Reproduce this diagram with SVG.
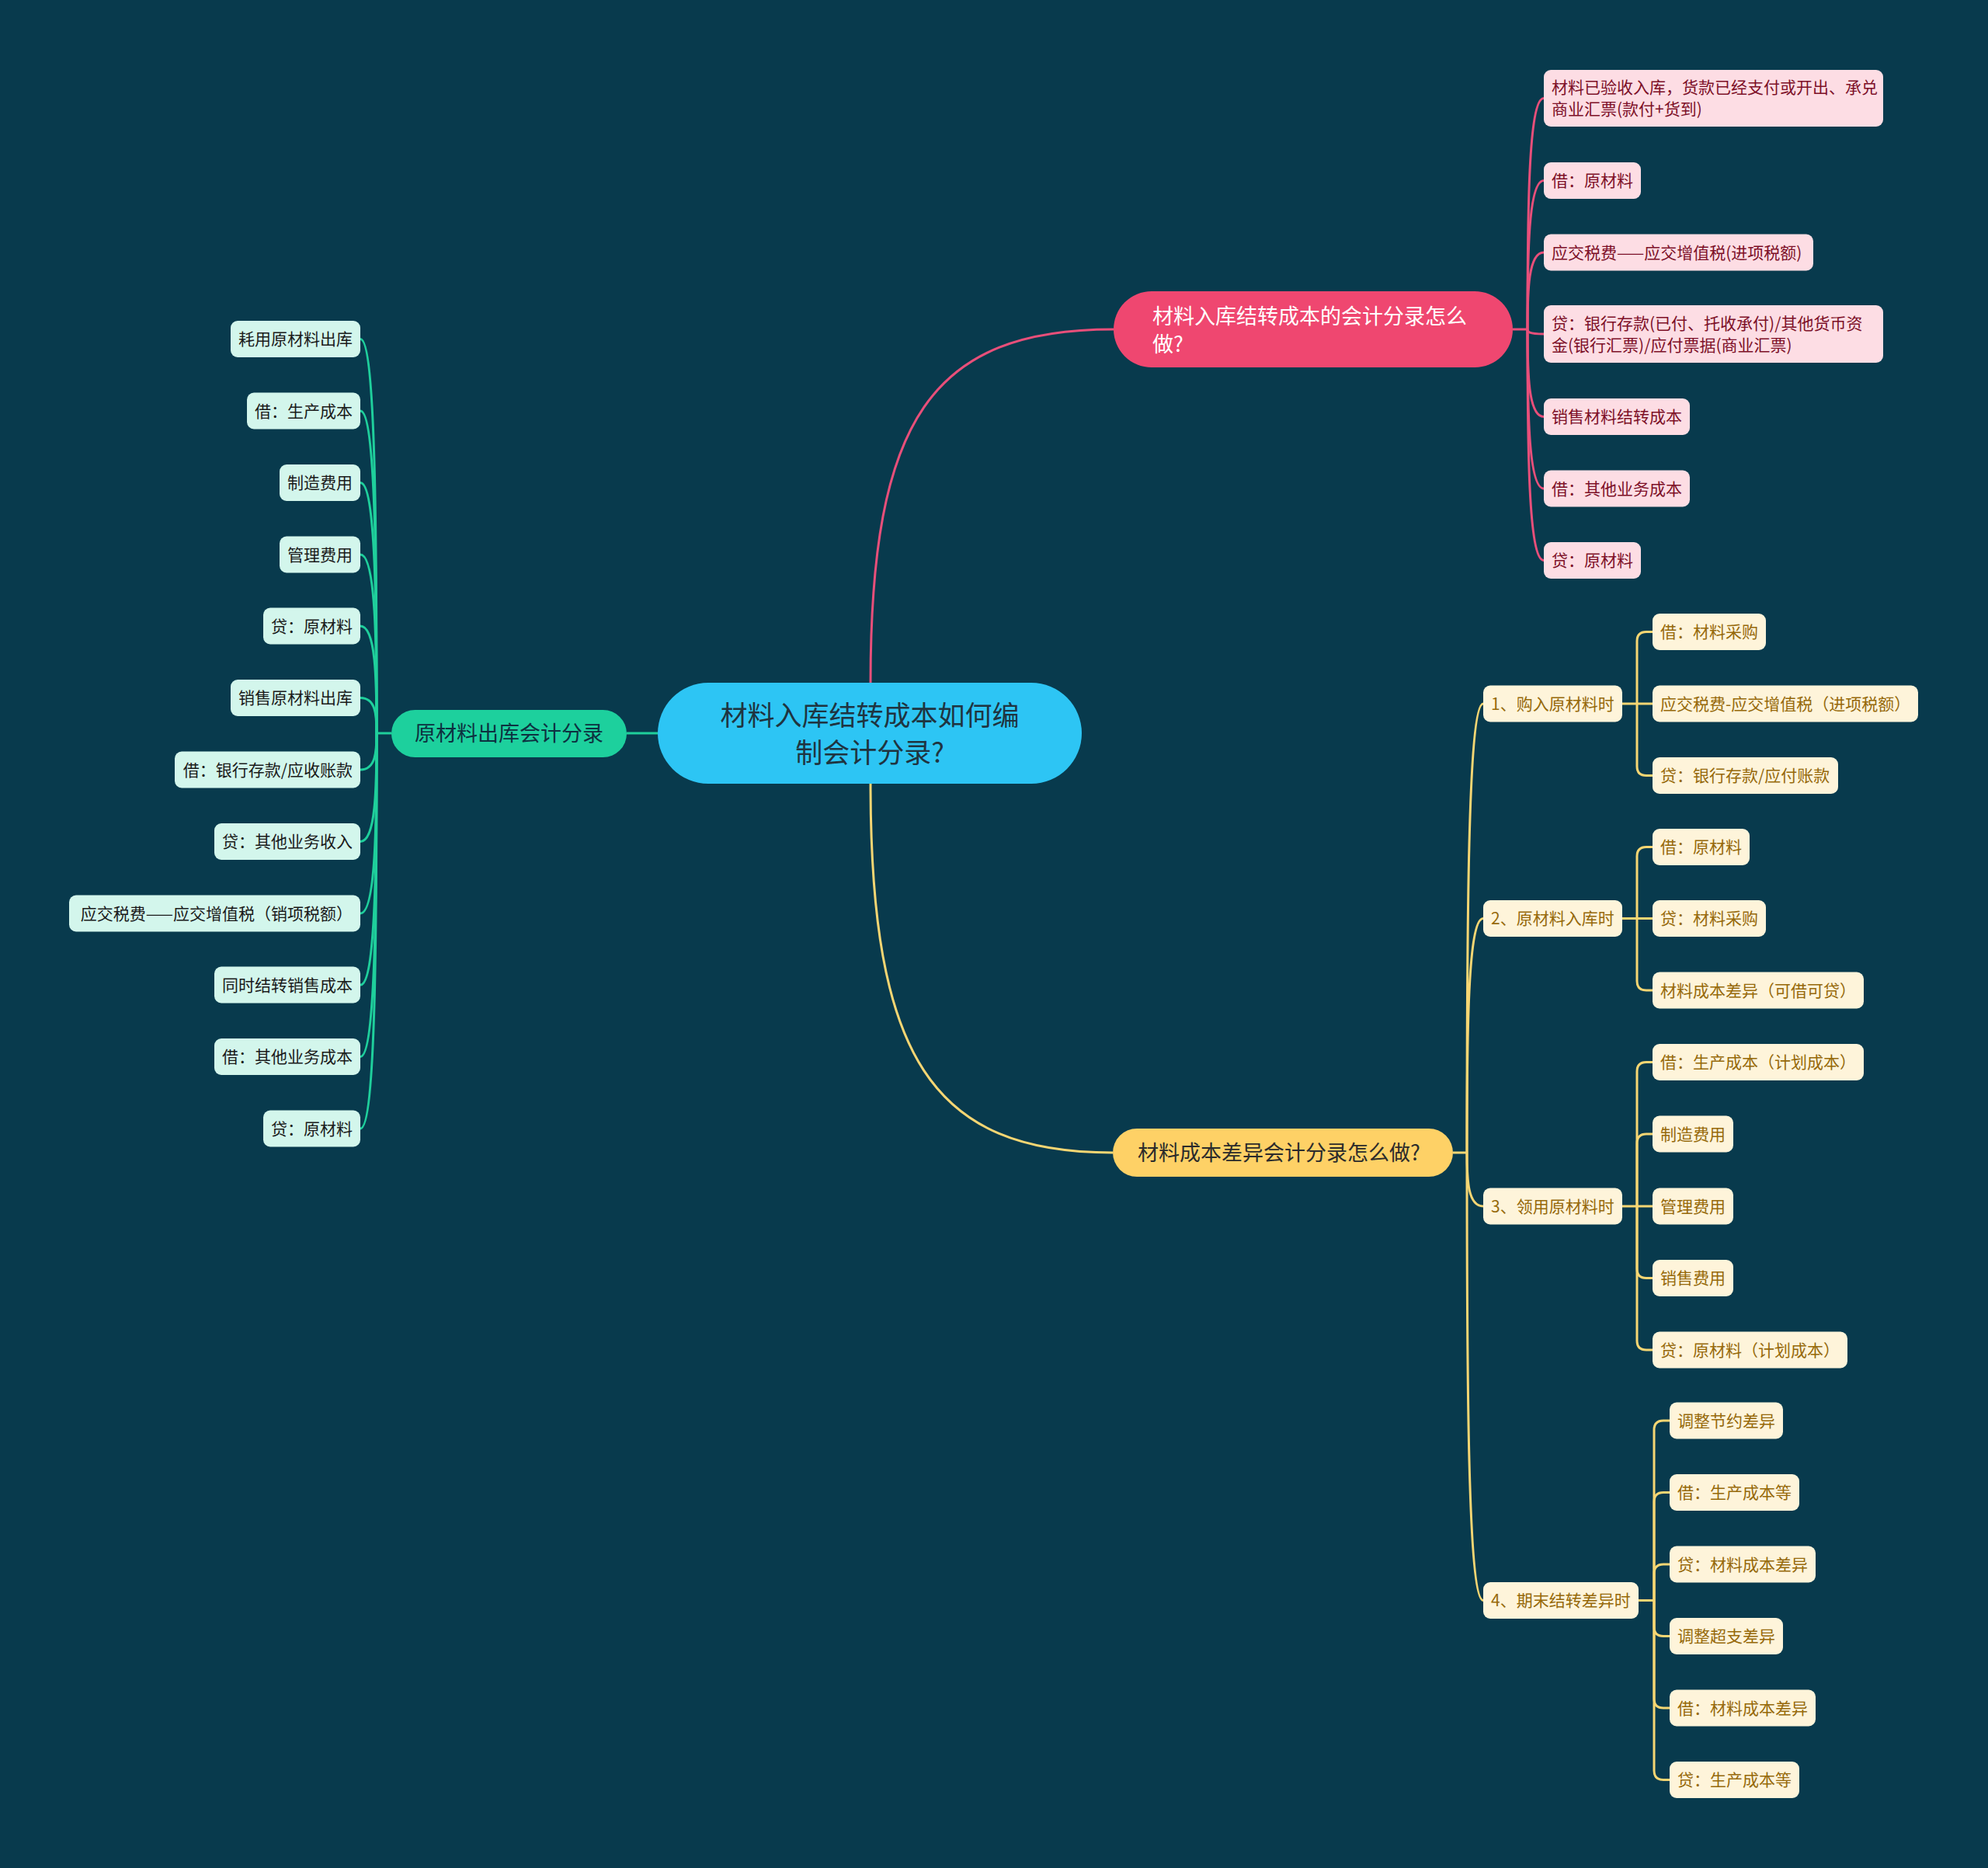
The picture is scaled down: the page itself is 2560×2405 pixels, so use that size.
<svg xmlns="http://www.w3.org/2000/svg" width="2560" height="2405" viewBox="0 0 2560 2405">
<style>
text{font-family:"Noto Sans CJK SC","Noto Sans",sans-serif;dominant-baseline:central;transform:translateY(-1.5px)}
.lg path{fill:none;stroke:#1fcf9c;stroke-width:3}
.lp path{fill:none;stroke:#e84f7a;stroke-width:3}
.ly path{fill:none;stroke:#f6d673;stroke-width:3}
.gc rect{fill:#d3f6ec}
.gc text{font-size:21px;fill:#1a1a1a;text-anchor:end}
.pc rect{fill:#fddde4}
.pc text{font-size:21px;fill:#7d1028}
.yc rect{fill:#fef4da}
.yc text{font-size:21px;fill:#96690a}
</style>
<rect width="2560" height="2405" fill="#083a4d"/>
<g id="connectors">
<g class="lg">
<path d="M807 944 L847 944"/>
<path d="M485 944 L504 944"/>
<path d="M464 436.5 C484 436.5 485 690 485 944"/>
<path d="M464 529 C484 529 485 736.5 485 944"/>
<path d="M464 621.5 C484 621.5 485 783 485 944"/>
<path d="M464 714 C484 714 485 829 485 944"/>
<path d="M464 806 C484 806 485 875 485 944"/>
<path d="M464 898.5 C484 898.5 485 921 485 944"/>
<path d="M464 991 C484 991 485 967 485 944"/>
<path d="M464 1083.5 C484 1083.5 485 1014 485 944"/>
<path d="M464 1176 C484 1176 485 1060 485 944"/>
<path d="M464 1268 C484 1268 485 1106 485 944"/>
<path d="M464 1360.5 C484 1360.5 485 1152 485 944"/>
<path d="M464 1453 C484 1453 485 1198 485 944"/>
</g>
<g class="lp">
<path d="M1121 879 C1121 540 1200 424 1434 424"/>
<path d="M1948 424 L1967 424"/>
<path d="M1988 126.5 C1968 126.5 1967 275 1967 424"/>
<path d="M1988 232.5 C1968 232.5 1967 328 1967 424"/>
<path d="M1988 325 C1968 325 1967 375 1967 424"/>
<path d="M1988 430 C1968 430 1967 427 1967 424"/>
<path d="M1988 536.5 C1968 536.5 1967 480 1967 424"/>
<path d="M1988 629 C1968 629 1967 526 1967 424"/>
<path d="M1988 721.5 C1968 721.5 1967 573 1967 424"/>
</g>
<g class="ly">
<path d="M1121 1009 C1121 1360 1200 1484 1433 1484"/>
<path d="M1871 1484 L1889 1484"/>
<path d="M1910 906 C1890 906 1889 1195 1889 1484"/>
<path d="M1910 1182.5 C1890 1182.5 1889 1333 1889 1484"/>
<path d="M1910 1553 C1890 1553 1889 1518 1889 1484"/>
<path d="M1910 2060.5 C1890 2060.5 1889 1772 1889 1484"/>
<path d="M2089 906 L2108 906"/>
<path d="M2108 906 L2108 825.5 Q2108 813.5 2120 813.5 L2128 813.5"/>
<path d="M2108 906 L2128 906"/>
<path d="M2108 906 L2108 986.5 Q2108 998.5 2120 998.5 L2128 998.5"/>
<path d="M2089 1182.5 L2108 1182.5"/>
<path d="M2108 1182.5 L2108 1102.5 Q2108 1090.5 2120 1090.5 L2128 1090.5"/>
<path d="M2108 1182.5 L2128 1182.5"/>
<path d="M2108 1182.5 L2108 1263 Q2108 1275 2120 1275 L2128 1275"/>
<path d="M2089 1553 L2108 1553"/>
<path d="M2108 1553 L2108 1379.5 Q2108 1367.5 2120 1367.5 L2128 1367.5"/>
<path d="M2108 1553 L2108 1472 Q2108 1460 2120 1460 L2128 1460"/>
<path d="M2108 1553 L2128 1553"/>
<path d="M2108 1553 L2108 1633.5 Q2108 1645.5 2120 1645.5 L2128 1645.5"/>
<path d="M2108 1553 L2108 1726 Q2108 1738 2120 1738 L2128 1738"/>
<path d="M2110 2060.5 L2130 2060.5"/>
<path d="M2130 2060.5 L2130 1841 Q2130 1829 2142 1829 L2150 1829"/>
<path d="M2130 2060.5 L2130 1933.5 Q2130 1921.5 2142 1921.5 L2150 1921.5"/>
<path d="M2130 2060.5 L2130 2026 Q2130 2014 2142 2014 L2150 2014"/>
<path d="M2130 2060.5 L2130 2094.5 Q2130 2106.5 2142 2106.5 L2150 2106.5"/>
<path d="M2130 2060.5 L2130 2187 Q2130 2199 2142 2199 L2150 2199"/>
<path d="M2130 2060.5 L2130 2279.5 Q2130 2291.5 2142 2291.5 L2150 2291.5"/>
</g>
</g>
<g id="root">
<rect x="847" y="879" width="546" height="130" rx="65" fill="#2dc5f4"/>
<text x="1120" y="920" font-size="35" fill="#1f3440" text-anchor="middle">材料入库结转成本如何编</text>
<text x="1120" y="968" font-size="35" fill="#1f3440" text-anchor="middle">制会计分录?</text>
</g>
<g id="branch-pink">
<rect x="1434" y="375" width="514" height="98" rx="49" fill="#ef4770"/>
<text x="1484" y="407" font-size="27" fill="#ffffff">材料入库结转成本的会计分录怎么</text>
<text x="1484" y="443" font-size="27" fill="#ffffff">做?</text>
</g>
<g id="branch-yellow">
<rect x="1433" y="1453" width="438" height="62" rx="31" fill="#fed166"/>
<text x="1465" y="1484" font-size="27" fill="#2b2b2b">材料成本差异会计分录怎么做?</text>
</g>
<g id="branch-green">
<rect x="504" y="914" width="303" height="61" rx="30.5" fill="#1dd09d"/>
<text x="655.5" y="944" font-size="27" fill="#0d3140" text-anchor="middle">原材料出库会计分录</text>
</g>
<g class="gc">
<g id="g0"><rect x="297" y="413" width="167" height="47" rx="9"/><text x="454" y="436.5">耗用原材料出库</text></g>
<g id="g1"><rect x="318" y="505.5" width="146" height="47" rx="9"/><text x="454" y="529">借：生产成本</text></g>
<g id="g2"><rect x="360" y="598" width="104" height="47" rx="9"/><text x="454" y="621.5">制造费用</text></g>
<g id="g3"><rect x="360" y="690.5" width="104" height="47" rx="9"/><text x="454" y="714">管理费用</text></g>
<g id="g4"><rect x="339" y="782.5" width="125" height="47" rx="9"/><text x="454" y="806">贷：原材料</text></g>
<g id="g5"><rect x="297" y="875" width="167" height="47" rx="9"/><text x="454" y="898.5">销售原材料出库</text></g>
<g id="g6"><rect x="225" y="967.5" width="239" height="47" rx="9"/><text x="454" y="991">借：银行存款/应收账款</text></g>
<g id="g7"><rect x="276" y="1060" width="188" height="47" rx="9"/><text x="454" y="1083.5">贷：其他业务收入</text></g>
<g id="g8"><rect x="89" y="1152.5" width="375" height="47" rx="9"/><text x="454" y="1176">应交税费——应交增值税（销项税额）</text></g>
<g id="g9"><rect x="276" y="1244.5" width="188" height="47" rx="9"/><text x="454" y="1268">同时结转销售成本</text></g>
<g id="g10"><rect x="276" y="1337" width="188" height="47" rx="9"/><text x="454" y="1360.5">借：其他业务成本</text></g>
<g id="g11"><rect x="339" y="1429.5" width="125" height="47" rx="9"/><text x="454" y="1453">贷：原材料</text></g>
</g>
<g class="pc">
<g id="p0"><rect x="1988" y="90" width="437" height="73" rx="9"/><text x="1998" y="112.5">材料已验收入库，货款已经支付或开出、承兑</text><text x="1998" y="140.5">商业汇票(款付+货到)</text></g>
<g id="p1"><rect x="1988" y="209" width="125" height="47" rx="9"/><text x="1998" y="232.5">借：原材料</text></g>
<g id="p2"><rect x="1988" y="301.5" width="347" height="47" rx="9"/><text x="1998" y="325">应交税费——应交增值税(进项税额)</text></g>
<g id="p3"><rect x="1988" y="393" width="437" height="74" rx="9"/><text x="1998" y="416">贷：银行存款(已付、托收承付)/其他货币资</text><text x="1998" y="444">金(银行汇票)/应付票据(商业汇票)</text></g>
<g id="p4"><rect x="1988" y="513" width="188" height="47" rx="9"/><text x="1998" y="536.5">销售材料结转成本</text></g>
<g id="p5"><rect x="1988" y="605.5" width="188" height="47" rx="9"/><text x="1998" y="629">借：其他业务成本</text></g>
<g id="p6"><rect x="1988" y="698" width="125" height="47" rx="9"/><text x="1998" y="721.5">贷：原材料</text></g>
</g>
<g class="yc">
<g id="y1"><rect x="1910" y="882.5" width="179" height="47" rx="9"/><text x="1920" y="906">1、购入原材料时</text></g>
<g id="y1a"><rect x="2128" y="790" width="146" height="47" rx="9"/><text x="2138" y="813.5">借：材料采购</text></g>
<g id="y1b"><rect x="2128" y="882.5" width="342" height="47" rx="9"/><text x="2138" y="906">应交税费-应交增值税（进项税额）</text></g>
<g id="y1c"><rect x="2128" y="975" width="239" height="47" rx="9"/><text x="2138" y="998.5">贷：银行存款/应付账款</text></g>
<g id="y2"><rect x="1910" y="1159" width="179" height="47" rx="9"/><text x="1920" y="1182.5">2、原材料入库时</text></g>
<g id="y2a"><rect x="2128" y="1067" width="125" height="47" rx="9"/><text x="2138" y="1090.5">借：原材料</text></g>
<g id="y2b"><rect x="2128" y="1159" width="146" height="47" rx="9"/><text x="2138" y="1182.5">贷：材料采购</text></g>
<g id="y2c"><rect x="2128" y="1251.5" width="272" height="47" rx="9"/><text x="2138" y="1275">材料成本差异（可借可贷）</text></g>
<g id="y3"><rect x="1910" y="1529.5" width="179" height="47" rx="9"/><text x="1920" y="1553">3、领用原材料时</text></g>
<g id="y3a"><rect x="2128" y="1344" width="272" height="47" rx="9"/><text x="2138" y="1367.5">借：生产成本（计划成本）</text></g>
<g id="y3b"><rect x="2128" y="1436.5" width="104" height="47" rx="9"/><text x="2138" y="1460">制造费用</text></g>
<g id="y3c"><rect x="2128" y="1529.5" width="104" height="47" rx="9"/><text x="2138" y="1553">管理费用</text></g>
<g id="y3d"><rect x="2128" y="1622" width="104" height="47" rx="9"/><text x="2138" y="1645.5">销售费用</text></g>
<g id="y3e"><rect x="2128" y="1714.5" width="251" height="47" rx="9"/><text x="2138" y="1738">贷：原材料（计划成本）</text></g>
<g id="y4"><rect x="1910" y="2037" width="200" height="47" rx="9"/><text x="1920" y="2060.5">4、期末结转差异时</text></g>
<g id="y4a"><rect x="2150" y="1805.5" width="146" height="47" rx="9"/><text x="2160" y="1829">调整节约差异</text></g>
<g id="y4b"><rect x="2150" y="1898" width="167" height="47" rx="9"/><text x="2160" y="1921.5">借：生产成本等</text></g>
<g id="y4c"><rect x="2150" y="1990.5" width="188" height="47" rx="9"/><text x="2160" y="2014">贷：材料成本差异</text></g>
<g id="y4d"><rect x="2150" y="2083" width="146" height="47" rx="9"/><text x="2160" y="2106.5">调整超支差异</text></g>
<g id="y4e"><rect x="2150" y="2175.5" width="188" height="47" rx="9"/><text x="2160" y="2199">借：材料成本差异</text></g>
<g id="y4f"><rect x="2150" y="2268" width="167" height="47" rx="9"/><text x="2160" y="2291.5">贷：生产成本等</text></g>
</g>
</svg>
